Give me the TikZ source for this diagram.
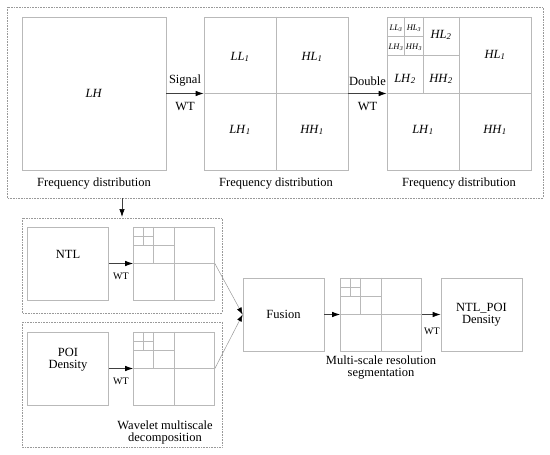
\documentclass[tikz,border=0pt]{standalone}
\usepackage{fontspec}
\setmainfont{Liberation Serif}
\usetikzlibrary{arrows.meta, calc, positioning}

\tikzset{
  box/.style={draw=gray!55, line width=0.7pt, inner sep=0pt},
  big/.style={box, minimum width=144pt, minimum height=153pt},
  small/.style={box, minimum width=81pt, minimum height=73pt},
  cell/.style={draw=gray!55, line width=0.6pt},
  frame/.style={draw=gray!80, densely dotted, line width=0.6pt},
  flow/.style={draw=black!75, line width=0.7pt, -{Latex[length=8pt,width=5.5pt,color=black]}},
  side/.style={draw=gray!80, line width=0.5pt, -{Latex[length=7pt,width=5pt,color=black]}},
  band/.style={font=\fontsize{12.5}{13}\selectfont, inner sep=0pt},
  tiny band/.style={font=\fontsize{8.5}{9}\selectfont, inner sep=0pt},
  capt/.style={font=\fontsize{12.5}{14}\selectfont, align=center},
  note/.style={font=\fontsize{12.5}{14}\selectfont, align=center},
  wt/.style={font=\fontsize{10}{11}\selectfont, inner sep=0pt}
}
\newcommand\bnd[2]{\textit{#1}\textsubscript{\textit{#2}}}
% cross through the middle of a node
\newcommand\halves[1]{\draw[cell] (#1.north) -- (#1.south) (#1.west) -- (#1.east);}
% two more levels in the upper left corner
\newcommand\subbands[1]{%
  \draw[cell] let \p1=(#1.north west), \p2=(#1.south east),
    \n1={\x2-\x1}, \n2={\y1-\y2} in
    (\x1+0.25*\n1,\y1) -- (\x1+0.25*\n1,\y1-0.5*\n2)
    (\x1,\y1-0.25*\n2) -- (\x1+0.5*\n1,\y1-0.25*\n2)
    (\x1+0.125*\n1,\y1) -- (\x1+0.125*\n1,\y1-0.25*\n2)
    (\x1,\y1-0.125*\n2) -- (\x1+0.25*\n1,\y1-0.125*\n2);}

\begin{document}
\begin{tikzpicture}[x=1pt, y=-1pt]
\useasboundingbox (0,0) rectangle (550,455);

% top row: one and two levels of decomposition
\draw[frame] (7,7) rectangle (543,198);
\node[big, band] (lh) at (94,93.5) {\textit{LH}};
\node[big] (one) at (276,93.5) {};
\node[big] (two) at (459,93.5) {};
\halves{one}
\halves{two}
\subbands{two}

\node[band] at (240,57) {\bnd{LL}{1}};
\node[band] at (312,57) {\bnd{HL}{1}};
\node[band] at (240,130) {\bnd{LH}{1}};
\node[band] at (312,130) {\bnd{HH}{1}};

\node[tiny band] at (396,28) {\bnd{LL}{3}};
\node[tiny band] at (414,28) {\bnd{HL}{3}};
\node[tiny band] at (396,47) {\bnd{LH}{3}};
\node[tiny band] at (414,47) {\bnd{HH}{3}};
\node[band] at (441,35) {\bnd{HL}{2}};
\node[band] at (405,79) {\bnd{LH}{2}};
\node[band] at (441,79) {\bnd{HH}{2}};
\node[band] at (495,55) {\bnd{HL}{1}};
\node[band] at (423,130) {\bnd{LH}{1}};
\node[band] at (495,130) {\bnd{HH}{1}};

\draw[flow] (lh) -- node[capt, above=4pt] {Signal} node[capt, below=5pt] {WT} (one);
\draw[flow] (one) -- node[capt, above=4pt] {Double} node[capt, below=5pt] {WT} (two);

\node[capt, below=4pt of lh] {Frequency distribution};
\node[capt, below=4pt of one] {Frequency distribution};
\node[capt, below=4pt of two] {Frequency distribution};

% lower part: decomposition of the two layers
\coordinate (topout) at (122,198);
\coordinate (lowin) at (122,217);
\draw[flow] (topout) -- (lowin);

\draw[frame] (22,218) rectangle (222,313);
\draw[frame] (22,322) rectangle (222,447);

\node[small] (ntl) at (68,263.5) {};
\node[note] at (68,254) {NTL};
\node[small] (ntlw) at (174,263.5) {};
\halves{ntlw}
\subbands{ntlw}
\draw[flow] (ntl.east |- ntlw.west) -- node[wt, below=9pt] {WT} (ntlw.west);

\node[small] (poi) at (68,368.5) {};
\node[note] at (68,360) {POI\\[-2pt]Density};
\node[small] (poiw) at (174,368.5) {};
\halves{poiw}
\subbands{poiw}
\draw[flow] (poi.east |- poiw.west) -- node[wt, below=9pt] {WT} (poiw.west);

\node[note] at (165,432) {Wavelet multiscale\\[-2pt]decomposition};

% fusion and segmentation
\node[small, note] (fus) at (283.5,314.5) {Fusion};
\node[small] (seg) at (381,314.5) {};
\halves{seg}
\subbands{seg}
\node[small, note] (out) at (481.5,314.5) {NTL\_POI\\[-2pt]Density};

\draw[side] (ntlw.east) -- (fus.west);
\draw[side] (poiw.east) -- (fus.west);
\draw[flow] (fus) -- (seg);
\draw[flow] (seg) -- (out);
\node[wt] at (432,331) {WT};

\node[note, below=1pt of seg] {Multi-scale resolution\\[-2pt]segmentation};
\end{tikzpicture}
\end{document}
